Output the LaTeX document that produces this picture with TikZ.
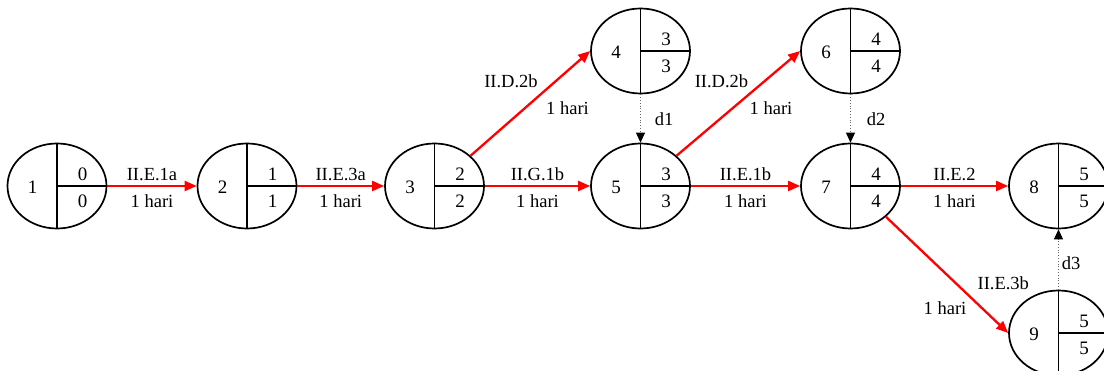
\documentclass[tikz,border=0pt]{standalone}
\usepackage{fontspec}
\setmainfont{Liberation Serif}
\usetikzlibrary{arrows.meta,shapes.geometric}
\tikzset{
  ev/.style={ellipse, draw=black, line width=1.7pt, minimum width=99pt, minimum height=85pt, inner sep=0pt},
  div/.style={draw=black, line width=1.1pt},
  num/.style={anchor=base, inner sep=0pt, font=\fontsize{19}{21}\selectfont},
  lbl/.style={anchor=base, inner sep=0pt, font=\fontsize{18.5}{20}\selectfont},
  act/.style={draw=red, line width=2.3pt, -{Triangle[length=12pt,width=10pt]}},
  dum/.style={draw=black!60, line width=0.8pt, dotted, -{Triangle[length=10pt,width=9pt,fill=black,color=black]}},
}
\newcommand\evnode[6]{%
  \node[ev] (#1) at (#2,#3) {};
  \draw[div] (#1.north) -- (#1.south);
  \draw[div] (#1.center) -- (#1.east);
  \node[num] (#1-i) at ([xshift=-24.5pt,yshift=-8pt]#1.center) {#4};
  \node[num] (#1-t) at ([xshift=25.5pt,yshift=5pt]#1.center) {#5};
  \node[num] (#1-b) at ([xshift=25.5pt,yshift=-21.8pt]#1.center) {#6};
}
\begin{document}
\begin{tikzpicture}[x=1pt,y=-1pt]
\useasboundingbox (0,0) rectangle (1104,371);
\clip (0,0) rectangle (1104,371);
\fill[white] (0,0) rectangle (1104,371);
\evnode{n1}{57}{186}{1}{0}{0}
\evnode{n2}{247}{186}{2}{1}{1}
\evnode{n3}{434.5}{186}{3}{2}{2}
\evnode{n4}{640.5}{51}{4}{3}{3}
\evnode{n5}{640.5}{186}{5}{3}{3}
\evnode{n6}{850.5}{51}{6}{4}{4}
\evnode{n7}{850.5}{186}{7}{4}{4}
\evnode{n8}{1058.5}{186}{8}{5}{5}
\evnode{n9}{1058.5}{333}{9}{5}{5}
% horizontal activities
\draw[act] (n1.east) -- (n2.west)
  node[lbl, midway, yshift=5.3pt] (l12a) {II.E.1a}
  node[lbl, midway, yshift=-21.8pt] (l12b) {1 hari};
\draw[act] (n2.east) -- (n3.west)
  node[lbl, midway, yshift=5.3pt] (l23a) {II.E.3a}
  node[lbl, midway, yshift=-21.8pt] (l23b) {1 hari};
\draw[act] (n3.east) -- (n5.west)
  node[lbl, midway, yshift=5.3pt] (l35a) {II.G.1b}
  node[lbl, midway, yshift=-21.8pt] (l35b) {1 hari};
\draw[act] (n5.east) -- (n7.west)
  node[lbl, midway, yshift=5.3pt] (l57a) {II.E.1b}
  node[lbl, midway, yshift=-21.8pt] (l57b) {1 hari};
\draw[act] (n7.east) -- (n8.west)
  node[lbl, midway, yshift=5.3pt] (l78a) {II.E.2}
  node[lbl, midway, yshift=-21.8pt] (l78b) {1 hari};
% diagonal activities
\draw[act] (n3.40) -- (n4.west);
\node[lbl] (l34a) at (511,87.7) {II.D.2b};
\node[lbl] (l34b) at (567.5,114.3) {1 hari};
\draw[act] (n5.40) -- (n6.west);
\node[lbl] (l56a) at (721.5,87.7) {II.D.2b};
\node[lbl] (l56b) at (771,114.3) {1 hari};
\draw[act] (n7.-41) -- (n9.west);
\node[lbl] (l79a) at (1003.3,289.3) {II.E.3b};
\node[lbl] (l79b) at (945,314.3) {1 hari};
% dummies
\draw[dum] (n4.south) -- (n5.north);
\node[lbl] (d1) at (664,126) {d1};
\draw[dum] (n6.south) -- (n7.north);
\node[lbl] (d2) at (876,126) {d2};
\draw[dum] (n9.north) -- (n8.south);
\node[lbl] (d3) at (1071,269.3) {d3};
\end{tikzpicture}
\end{document}
